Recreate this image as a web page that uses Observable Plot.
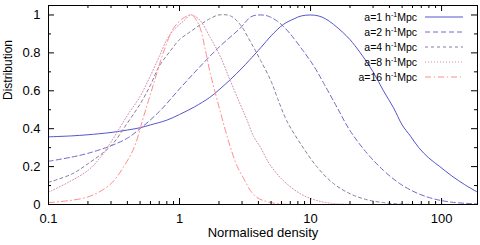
<!DOCTYPE html>
<html><head><meta charset="utf-8">
<script src="https://cdn.jsdelivr.net/npm/d3@7"></script>
<script src="https://cdn.jsdelivr.net/npm/@observablehq/plot@0.6"></script>
<style>body{margin:0;background:#fff} svg{font-family:"Liberation Sans",Arial,sans-serif}</style>
</head><body><div id="chart"></div>
<script>
// a=1 h^-1 Mpc
const x1 = [0.1,0.15,0.2,0.3,0.4,0.5,0.6,0.8,1,1.3,1.7,2,2.45,3,3.4,4.2,5,6.2,7.5,8.5,10,11.5,13,15,17.5,20,24,30,36,43,50,58,67,80,97,120,150,188];
const y1 = [0.357,0.362,0.368,0.38,0.393,0.405,0.42,0.445,0.475,0.515,0.565,0.605,0.66,0.72,0.76,0.83,0.89,0.95,0.98,0.995,1.0,0.995,0.98,0.95,0.91,0.87,0.8,0.7,0.6,0.51,0.42,0.36,0.3,0.245,0.2,0.15,0.105,0.065];
// a=2
const x2 = [0.1,0.15,0.2,0.3,0.4,0.5,0.7,1,1.4,2,2.9,3.5,4,4.7,5.5,6.2,7,8.8,10.6,12.6,16,20,27,36,48,65,87,120,188];
const y2 = [0.228,0.25,0.27,0.31,0.35,0.4,0.49,0.61,0.72,0.83,0.93,0.99,1.0,0.995,0.97,0.94,0.9,0.81,0.73,0.64,0.51,0.39,0.27,0.18,0.11,0.06,0.03,0.012,0.003];
// a=4
const x4 = [0.1,0.15,0.2,0.3,0.4,0.5,0.6,0.7,0.85,1,1.2,1.45,1.7,2,2.45,2.9,3.47,4.16,5,5.6,6.6,8.4,11.3,15,20,27,36,50,80];
const y4 = [0.117,0.16,0.215,0.31,0.43,0.53,0.63,0.73,0.81,0.87,0.91,0.95,0.98,1.0,0.995,0.95,0.86,0.76,0.65,0.56,0.44,0.32,0.195,0.11,0.057,0.025,0.01,0.002,0.0];
// a=8
const x8 = [0.1,0.14,0.2,0.25,0.3,0.4,0.5,0.6,0.7,0.8,0.9,1,1.1,1.2,1.3,1.44,1.72,2.05,2.45,2.9,3.3,3.67,4.16,4.9,6.2,8.4,11.3,15,20,30];
const y8 = [0.065,0.115,0.18,0.25,0.33,0.47,0.57,0.68,0.78,0.87,0.92,0.95,0.975,1.0,0.995,0.97,0.88,0.78,0.65,0.53,0.44,0.36,0.3,0.21,0.126,0.056,0.02,0.005,0.001,0.0];
// a=16
const x16 = [0.1,0.2,0.3,0.375,0.45,0.53,0.63,0.76,0.9,1.05,1.15,1.25,1.35,1.44,1.58,1.72,1.94,2.2,2.45,2.76,3.1,3.47,3.9,4.4,5,6,8];
const y16 = [0.01,0.04,0.11,0.2,0.3,0.46,0.63,0.81,0.93,0.98,0.995,1.0,0.97,0.93,0.81,0.69,0.55,0.41,0.3,0.2,0.135,0.074,0.037,0.02,0.01,0.002,0.0];

const legendLabels = ["a=1","a=2","a=4","a=8","a=16"];
const xMajor = [0.1,1,10,100];
const xTickLabels = ["0.1","1","10","100"];
const xMinor = [0.2,0.3,0.4,0.5,0.6,0.7,0.8,0.9,2,3,4,5,6,7,8,9,20,30,40,50,60,70,80,90];
const yMajor = [0,0.2,0.4,0.6,0.8,1];
const yTickLabels = ["0","0.2","0.4","0.6","0.8","1"];
const yMinor = [0.1,0.3,0.5,0.7,0.9];

const styles = [
  {stroke:"#5555cc", dash:null},
  {stroke:"#7766c8", dash:"5,3"},
  {stroke:"#8a7a9e", dash:"3,3"},
  {stroke:"#d48aae", dash:"1,2"},
  {stroke:"#ff8c8c", dash:"6,3,1,3"}
];
const xs = [x1,x2,x4,x8,x16], ys = [y1,y2,y4,y8,y16];

const W = 480, H = 245, mL = 48, mR = 3, mT = 5, mB = 41;
const fw = W - mL - mR, fh = H - mT - mB;

const lineMarks = xs.map((xv, k) => Plot.line(xv.map((x, i) => ({x, y: ys[k][i]})), {
  x: "x", y: "y", stroke: styles[k].stroke, strokeWidth: 1,
  strokeDasharray: styles[k].dash, curve: "catmull-rom"
}));

const plot = Plot.plot({
  width: W, height: H, marginLeft: mL, marginRight: mR, marginTop: mT, marginBottom: mB,
  x: {type: "log", domain: [0.1, 188], axis: null},
  y: {domain: [0, 1.05], axis: null},
  style: {fontFamily: '"Liberation Sans", Arial, sans-serif', fontSize: "13px", background: "#fff", color: "#000"},
  marks: [
    ...lineMarks,
    Plot.frame({stroke: "#000", strokeWidth: 1}),
    Plot.tickX(xMajor, {x: d => d, insetTop: fh - 6, stroke: "#000"}),
    Plot.tickX(xMajor, {x: d => d, insetBottom: fh - 6, stroke: "#000"}),
    Plot.tickX(xMinor, {x: d => d, insetTop: fh - 3, stroke: "#000"}),
    Plot.tickX(xMinor, {x: d => d, insetBottom: fh - 3, stroke: "#000"}),
    Plot.tickY(yMajor, {y: d => d, insetRight: fw - 6, stroke: "#000"}),
    Plot.tickY(yMajor, {y: d => d, insetLeft: fw - 6, stroke: "#000"}),
    Plot.tickY(yMinor, {y: d => d, insetRight: fw - 3, stroke: "#000"}),
    Plot.tickY(yMinor, {y: d => d, insetLeft: fw - 3, stroke: "#000"}),
    Plot.text(xMajor, {x: d => d, y: 0, text: (d, i) => xTickLabels[i], dy: 14, fontSize: 13, fill: "#000"}),
    Plot.text(yMajor, {x: 0.1, y: d => d, text: (d, i) => yTickLabels[i], dx: -8, textAnchor: "end", fontSize: 13, fill: "#000"}),
    Plot.text(["Normalised density"], {text: d => d, frameAnchor: "bottom", dy: 32, fontSize: 13, fill: "#000"}),
    Plot.text(["Distribution"], {text: d => d, frameAnchor: "left", rotate: -90, dx: -40, dy: -5, fontSize: 12, fill: "#000"})
  ]
});

// legend (gnuplot-style key, top right)
const svg = d3.select(plot);
const g = svg.append("g").attr("font-size", 10.5).attr("fill", "#000");
legendLabels.forEach((lab, k) => {
  const cy = 17 + 15 * k;
  const t = g.append("text").attr("x", 417).attr("y", cy + 4).attr("text-anchor", "end");
  t.append("tspan").text(lab + " h");
  t.append("tspan").attr("font-size", 7).attr("dy", -4).text("-1");
  t.append("tspan").attr("dy", 4).text("Mpc");
  g.append("line").attr("x1", 425).attr("x2", 463).attr("y1", cy).attr("y2", cy)
    .attr("stroke", styles[k].stroke).attr("stroke-width", 1)
    .attr("stroke-dasharray", styles[k].dash);
});

document.getElementById("chart").appendChild(plot);
</script>
</body></html>
